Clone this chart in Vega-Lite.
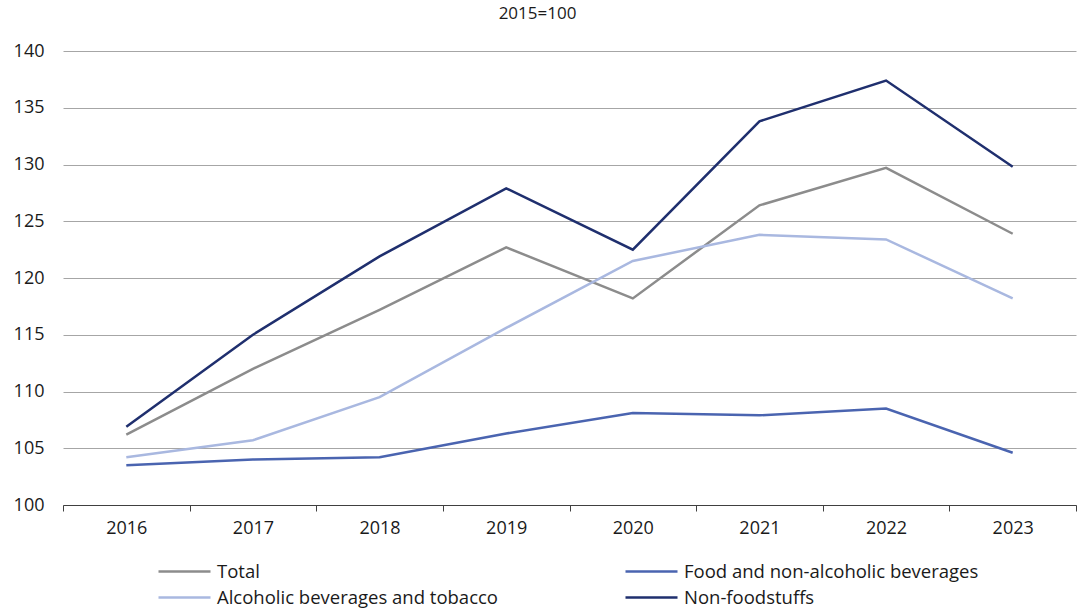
{
  "$schema": "https://vega.github.io/schema/vega-lite/v6.json",
  "width": 1013,
  "height": 454,
  "padding": {"left": 63, "top": 51, "right": 2, "bottom": 106},
  "autosize": {"type": "none"},
  "background": "white",
  "config": {
    "view": {"stroke": null},
    "font": "Open Sans",
    "axis": {"labelFont": "Open Sans", "labelColor": "#1a1a1a"}
  },
  "title": {
    "text": "2015=100",
    "fontSize": 17,
    "fontWeight": "normal",
    "font": "Open Sans",
    "color": "#1a1a1a",
    "anchor": "middle",
    "dx": -32,
    "offset": 19
  },
  "data": {
    "values": [
      {"year": "2016", "series": "Total", "value": 106.2},
      {"year": "2017", "series": "Total", "value": 112.0},
      {"year": "2018", "series": "Total", "value": 117.2},
      {"year": "2019", "series": "Total", "value": 122.7},
      {"year": "2020", "series": "Total", "value": 118.2},
      {"year": "2021", "series": "Total", "value": 126.4},
      {"year": "2022", "series": "Total", "value": 129.7},
      {"year": "2023", "series": "Total", "value": 123.9},
      {"year": "2016", "series": "Food and non-alcoholic beverages", "value": 103.5},
      {"year": "2017", "series": "Food and non-alcoholic beverages", "value": 104.0},
      {"year": "2018", "series": "Food and non-alcoholic beverages", "value": 104.2},
      {"year": "2019", "series": "Food and non-alcoholic beverages", "value": 106.3},
      {"year": "2020", "series": "Food and non-alcoholic beverages", "value": 108.1},
      {"year": "2021", "series": "Food and non-alcoholic beverages", "value": 107.9},
      {"year": "2022", "series": "Food and non-alcoholic beverages", "value": 108.5},
      {"year": "2023", "series": "Food and non-alcoholic beverages", "value": 104.6},
      {"year": "2016", "series": "Alcoholic beverages and tobacco", "value": 104.2},
      {"year": "2017", "series": "Alcoholic beverages and tobacco", "value": 105.7},
      {"year": "2018", "series": "Alcoholic beverages and tobacco", "value": 109.5},
      {"year": "2019", "series": "Alcoholic beverages and tobacco", "value": 115.6},
      {"year": "2020", "series": "Alcoholic beverages and tobacco", "value": 121.5},
      {"year": "2021", "series": "Alcoholic beverages and tobacco", "value": 123.8},
      {"year": "2022", "series": "Alcoholic beverages and tobacco", "value": 123.4},
      {"year": "2023", "series": "Alcoholic beverages and tobacco", "value": 118.2},
      {"year": "2016", "series": "Non-foodstuffs", "value": 106.9},
      {"year": "2017", "series": "Non-foodstuffs", "value": 115.0},
      {"year": "2018", "series": "Non-foodstuffs", "value": 121.9},
      {"year": "2019", "series": "Non-foodstuffs", "value": 127.9},
      {"year": "2020", "series": "Non-foodstuffs", "value": 122.5},
      {"year": "2021", "series": "Non-foodstuffs", "value": 133.8},
      {"year": "2022", "series": "Non-foodstuffs", "value": 137.4},
      {"year": "2023", "series": "Non-foodstuffs", "value": 129.8}
    ]
  },
  "mark": {"type": "line", "strokeWidth": 2.5},
  "encoding": {
    "x": {
      "field": "year",
      "type": "ordinal",
      "scale": {"type": "band", "paddingInner": 0, "paddingOuter": 0},
      "axis": {
        "title": null,
        "labelAngle": 0,
        "labelFontSize": 18,
        "labelPadding": 8,
        "tickBand": "extent",
        "tickSize": 6,
        "tickColor": "#404040",
        "domainColor": "#404040",
        "domainWidth": 1,
        "grid": false
      }
    },
    "y": {
      "field": "value",
      "type": "quantitative",
      "scale": {"domain": [100, 140], "nice": false, "zero": false},
      "axis": {
        "title": null,
        "values": [100, 105, 110, 115, 120, 125, 130, 135, 140],
        "labelFontSize": 18,
        "labelPadding": 19,
        "ticks": false,
        "domain": false,
        "grid": true,
        "gridColor": "#a6a6a6",
        "gridWidth": 1
      }
    },
    "color": {
      "field": "series",
      "type": "nominal",
      "scale": {
        "domain": ["Total", "Food and non-alcoholic beverages", "Alcoholic beverages and tobacco", "Non-foodstuffs"],
        "range": ["#8c8c8c", "#4a64b0", "#a9b8e0", "#1f2f6e"]
      },
      "legend": {
        "title": null,
        "orient": "none",
        "legendX": 120,
        "legendY": 506,
        "direction": "horizontal",
        "columns": 2,
        "columnPadding": 122,
        "rowPadding": 2,
        "symbolType": "M-3,0H1",
        "symbolSize": 676,
        "symbolStrokeWidth": 2.5,
        "labelFontSize": 18.5,
        "labelFont": "Open Sans",
        "labelColor": "#1a1a1a",
        "labelOffset": 5,
        "labelLimit": 400
      }
    }
  },
  "view": {"stroke": null}
}
